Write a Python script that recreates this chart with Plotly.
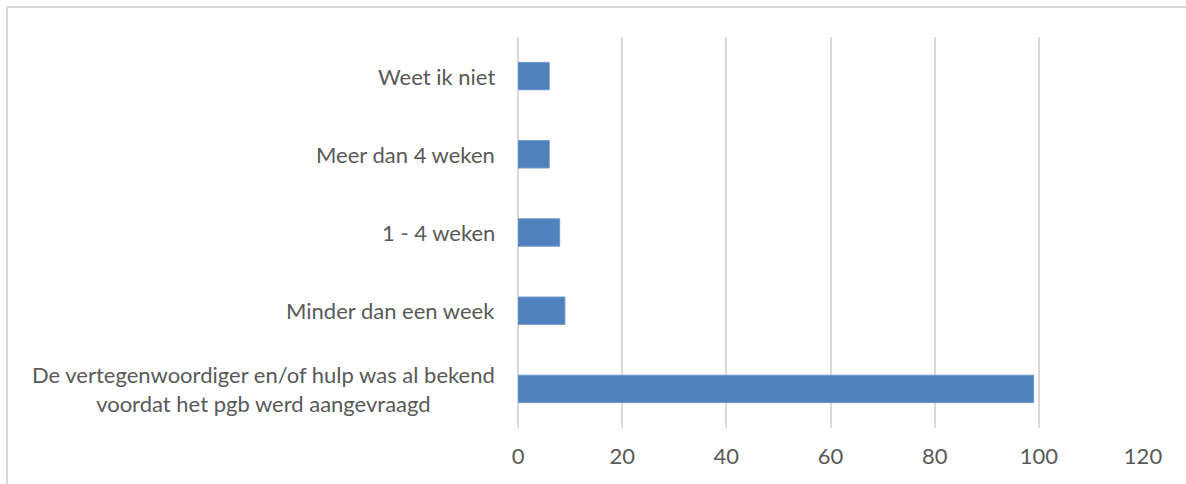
import plotly.graph_objects as go

# Answer categories (bottom to top as drawn) and counts
categories = [
    'De vertegenwoordiger en/of hulp was al bekend<br>voordat het pgb werd aangevraagd',
    'Minder dan een week',
    '1 - 4 weken',
    'Meer dan 4 weken',
    'Weet ik niet',
]
counts = [99, 9, 8, 6, 6]
x_ticks = [0, 20, 40, 60, 80, 100, 120]

font_family = 'Lato, "Open Sans", sans-serif'
text_color = '#595959'
grid_color = '#d9d9d9'

fig = go.Figure()

fig.add_trace(go.Bar(
    x=counts,
    y=categories,
    orientation='h',
    marker=dict(color='#4f81bd', line=dict(color='#6f97c9', width=1)),
    hoverinfo='x+y',
))

# Category labels as annotations so the two-line label is centred
for cat in categories:
    fig.add_annotation(
        x=0, xref='paper', xshift=-21,
        y=cat, yref='y',
        text=cat, showarrow=False,
        xanchor='right', yanchor='middle', align='center',
        font=dict(family=font_family, size=22, color=text_color),
    )

# Chart frame (cropped at the right and bottom in the original)
fig.add_shape(
    type='rect', xref='paper', yref='paper',
    x0=-0.8176, x1=1.2, y0=-0.5, y1=1.0767,
    line=dict(color=grid_color, width=2), layer='below',
)

fig.update_layout(
    width=1186,
    height=484,
    margin=dict(l=518, r=43, t=37, b=56),
    paper_bgcolor='white',
    plot_bgcolor='white',
    bargap=0.65,
    showlegend=False,
    font=dict(family=font_family, size=22, color=text_color),
    xaxis=dict(
        range=[0, 120],
        tickvals=x_ticks,
        showgrid=True,
        gridcolor=grid_color,
        gridwidth=2,
        zeroline=True,
        zerolinecolor=grid_color,
        zerolinewidth=2,
        showline=False,
        ticks='',
        ticklabelstandoff=13,
        tickfont=dict(family=font_family, size=22, color=text_color),
    ),
    yaxis=dict(
        categoryorder='array',
        categoryarray=categories,
        showticklabels=False,
        showgrid=False,
        zeroline=False,
        showline=False,
        ticks='',
    ),
)

fig.write_html('out.html', config={'displayModeBar': False},
               post_script="document.body.style.margin='0';")
